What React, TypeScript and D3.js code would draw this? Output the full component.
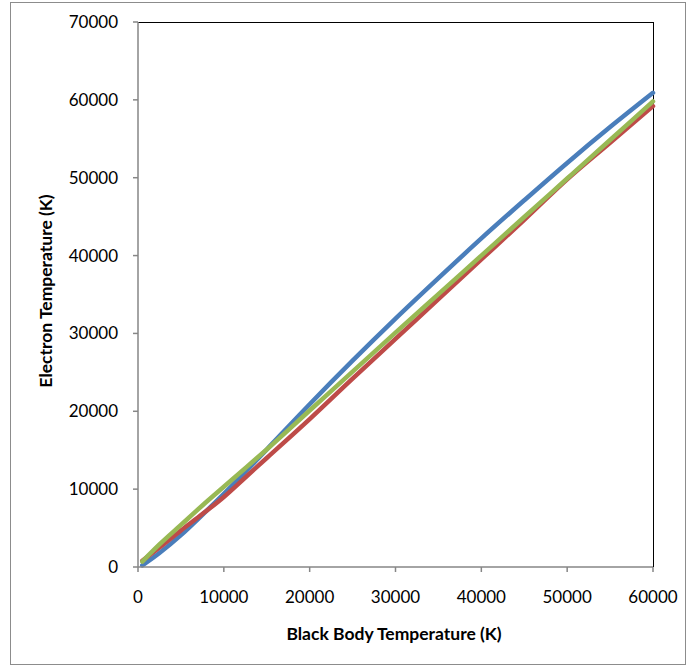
import React from "react";
import * as d3 from "d3";

// Black body temperature (K) sample points
const blackBodyT = [500, 2500, 5000, 7500, 10000, 12500, 15000, 20000, 25000, 30000, 35000, 40000, 45000, 50000, 55000, 60000];
// Electron temperature (K) for each series
const seriesBlue = [200, 1800, 4100, 6700, 9400, 12200, 15100, 20900, 26500, 31900, 37100, 42200, 47100, 51900, 56500, 60900];
const seriesRed = [800, 2500, 4700, 6800, 9000, 11500, 14000, 19000, 24200, 29300, 34400, 39500, 44600, 49800, 54500, 59200];
const seriesGreen = [700, 2900, 5400, 7900, 10300, 12700, 15100, 20100, 25100, 30100, 35050, 40000, 44950, 49900, 54850, 59800];

const xTicks = [0, 10000, 20000, 30000, 40000, 50000, 60000];
const yTicks = [0, 10000, 20000, 30000, 40000, 50000, 60000, 70000];

const series = [
  { name: "blue", values: seriesBlue, color: "#4A7EBB" },
  { name: "red", values: seriesRed, color: "#BE4B48" },
  { name: "green", values: seriesGreen, color: "#98B954" },
];

const W = 688;
const H = 671;
const plot = { left: 138, right: 653, top: 22, bottom: 567 };
const font = "Lato, 'Open Sans', sans-serif";

export default function App() {
  const x = d3.scaleLinear().domain([0, 60000]).range([plot.left, plot.right]);
  const y = d3.scaleLinear().domain([0, 70000]).range([plot.bottom, plot.top]);
  const line = d3
    .line<[number, number]>()
    .x((d) => x(d[0]))
    .y((d) => y(d[1]))
    .curve(d3.curveMonotoneX);

  return (
    <svg width={W} height={H} style={{ position: "absolute", left: 0, top: 0, background: "#fff" }}>
      <rect x={10.5} y={2.5} width={675} height={662} fill="#fff" stroke="#8c8c8c" strokeWidth={1} />
      {/* plot area frame */}
      <line x1={plot.left} x2={plot.right} y1={plot.top + 0.5} y2={plot.top + 0.5} stroke="#000" strokeWidth={1} />
      <line x1={plot.right + 0.5} x2={plot.right + 0.5} y1={plot.top} y2={plot.bottom} stroke="#000" strokeWidth={1} />

      {series.map((s) => (
        <path
          key={s.name}
          d={line(blackBodyT.map((t, i) => [t, s.values[i]] as [number, number])) || ""}
          fill="none"
          stroke={s.color}
          strokeWidth={4.5}
          strokeLinejoin="round"
          strokeLinecap="round"
        />
      ))}

      {/* y axis */}
      <line x1={plot.left} x2={plot.left} y1={plot.top} y2={plot.bottom} stroke="#868686" strokeWidth={1.5} />
      {yTicks.map((t) => (
        <g key={"y" + t}>
          <line x1={plot.left - 5} x2={plot.left} y1={y(t)} y2={y(t)} stroke="#868686" strokeWidth={1.5} />
          <text x={118} y={y(t)} dy="0.35em" textAnchor="end" fontFamily={font} fontSize={17} fill="#000">
            {t}
          </text>
        </g>
      ))}

      {/* x axis */}
      <line x1={plot.left} x2={plot.right} y1={plot.bottom} y2={plot.bottom} stroke="#868686" strokeWidth={1.5} />
      {xTicks.map((t) => (
        <g key={"x" + t}>
          <line x1={x(t)} x2={x(t)} y1={plot.bottom} y2={plot.bottom + 5} stroke="#868686" strokeWidth={1.5} />
          <text x={x(t)} y={597} dy="0.35em" textAnchor="middle" fontFamily={font} fontSize={17} fill="#000">
            {t}
          </text>
        </g>
      ))}

      <text x={394} y={634} dy="0.35em" textAnchor="middle" fontFamily={font} fontSize={17.5} fontWeight="bold" fill="#000">
        Black Body Temperature (K)
      </text>
      <text
        transform={`translate(46, ${291}) rotate(-90)`}
        dy="0.35em"
        textAnchor="middle"
        fontFamily={font}
        fontSize={17.5}
        fontWeight="bold"
        fill="#000"
      >
        Electron Temperature (K)
      </text>
    </svg>
  );
}
